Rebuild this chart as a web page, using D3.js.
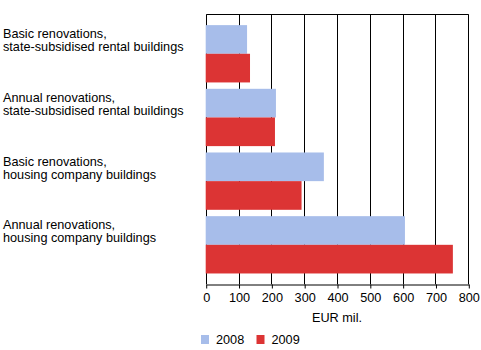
<!DOCTYPE html>
<html><head><meta charset="utf-8">
<script src="https://cdn.jsdelivr.net/npm/d3@7"></script>
<style>body{margin:0;background:#fff}svg{display:block;font-family:"Liberation Sans",Arial,sans-serif}</style>
</head><body>
<script>
const categories = [
  ["Basic renovations,", "state-subsidised rental buildings"],
  ["Annual renovations,", "state-subsidised rental buildings"],
  ["Basic renovations,", "housing company buildings"],
  ["Annual renovations,", "housing company buildings"]
];
const seriesNames = ["2008", "2009"];
const values2008 = [126, 214, 360, 607];
const values2009 = [135, 211, 292, 753];
const xTicks = [0, 100, 200, 300, 400, 500, 600, 700, 800];
const colors = ["#a7bdea", "#dc3434"];

const FS = 12.7;
const W = 481, H = 350;
const svg = d3.select("body").append("svg").attr("width", W).attr("height", H);
const L = 205.7, R = 468.3, T = 14.3, B = 284.3;

const x = d3.scaleLinear().domain([0, 800]).range([L, R]);
const y = d3.scaleBand().domain(d3.range(categories.length)).range([T, B]).paddingInner(0.1).paddingOuter(0.17);
const ys = d3.scaleBand().domain(seriesNames).range([0, y.bandwidth()]);

// grid lines
svg.append("g").selectAll("line").data(xTicks).join("line")
  .attr("x1", d => Math.round(x(d)) + 0.5).attr("x2", d => Math.round(x(d)) + 0.5)
  .attr("y1", T).attr("y2", B).attr("stroke", "#000").attr("stroke-width", 1);
// top border
svg.append("line").attr("x1", Math.round(L)+0.5).attr("x2", Math.round(R)+0.5)
  .attr("y1", Math.round(T)+0.5).attr("y2", Math.round(T)+0.5).attr("stroke", "#000");

const data = [values2008, values2009];
seriesNames.forEach((s, si) => {
  svg.append("g").selectAll("rect").data(data[si]).join("rect")
    .attr("x", x(0)).attr("width", d => x(d) - x(0))
    .attr("y", (d, i) => y(i) + ys(s)).attr("height", ys.bandwidth())
    .attr("fill", colors[si]);
});

// x axis
const ax = svg.append("g").attr("transform", `translate(0.5,${Math.round(B)+0.5})`)
  .call(d3.axisBottom(x).tickValues(xTicks).tickSize(4).tickSizeOuter(0).tickPadding(4));
ax.select(".domain").attr("stroke", "#000");
ax.selectAll(".tick line").attr("stroke", "#000");
ax.selectAll("text").attr("font-size", FS).attr("fill", "#000").attr("font-family", "Liberation Sans, Arial, sans-serif");

// category labels
categories.forEach((lines, i) => {
  const t = svg.append("text").attr("x", 3).attr("font-size", FS).attr("fill", "#000");
  lines.forEach((ln, j) => t.append("tspan").attr("x", 3).attr("y", y(i) + 13.2 + j * 13).text(ln));
});

// axis title
svg.append("text").attr("x", (L + R) / 2).attr("y", 322.3).attr("text-anchor", "middle")
  .attr("font-size", FS).attr("fill", "#000").text("EUR mil.");

// legend
const legX = [201, 256.5];
seriesNames.forEach((s, i) => {
  svg.append("rect").attr("x", legX[i]).attr("y", 335).attr("width", 8).attr("height", 9).attr("fill", colors[i]);
  svg.append("text").attr("x", legX[i] + 15).attr("y", 343.5).attr("font-size", FS).attr("fill", "#000").text(s);
});
</script>
</body></html>
